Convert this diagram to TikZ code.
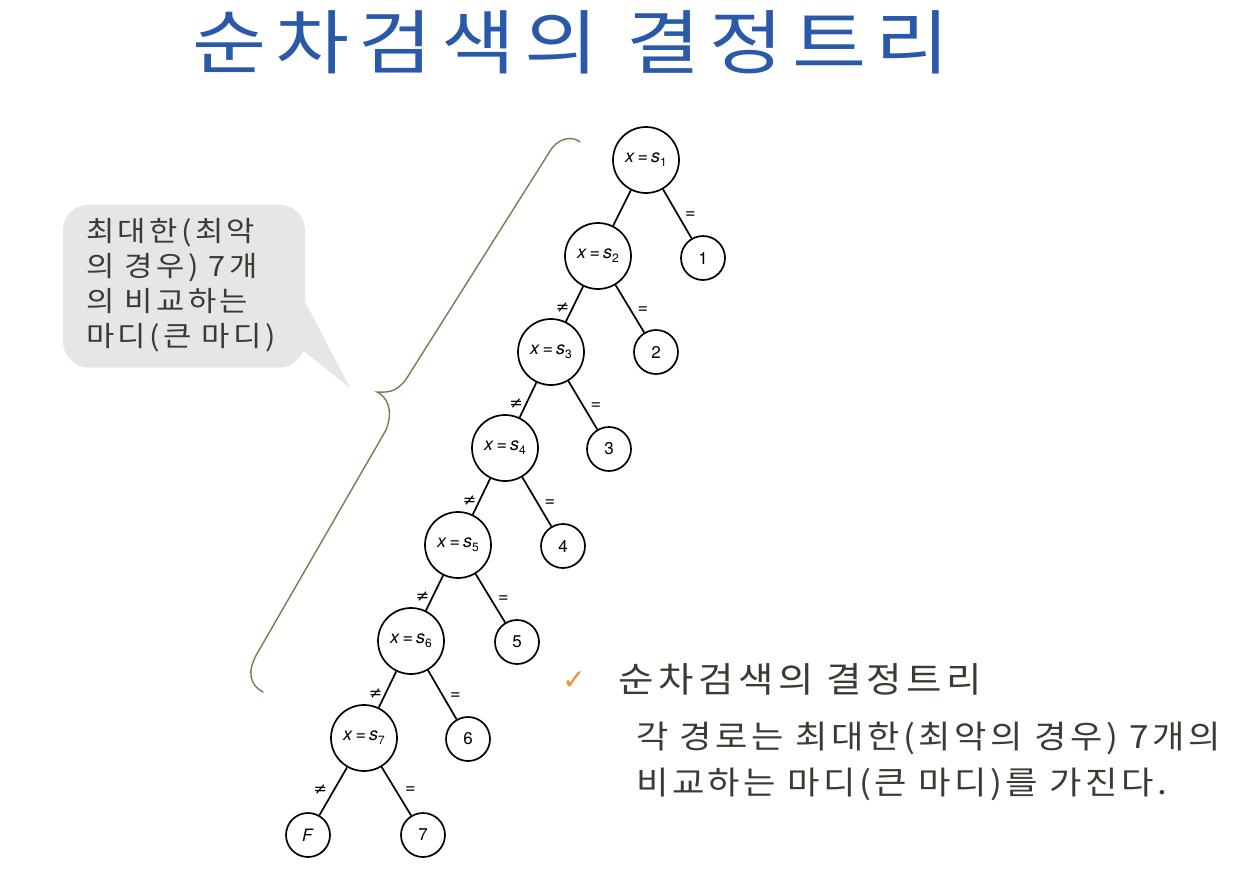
\documentclass[tikz,border=0pt]{standalone}
\usepackage{fontspec}
\newfontfamily\krtitle[FakeStretch=1.15,LetterSpace=13]{Noto Sans CJK KR}
\newfontfamily\krhead[FakeStretch=1.1,LetterSpace=13]{Noto Sans CJK KR}
\newfontfamily\krbody[FakeStretch=1.1,LetterSpace=11]{Noto Sans CJK KR}
\newfontfamily\krcall[FakeStretch=1.1,LetterSpace=12]{Noto Sans CJK KR}
\newfontfamily\hv{TeX Gyre Heros}
\newfontfamily\djv{DejaVu Sans}
\definecolor{titleblue}{RGB}{43,89,170}
\definecolor{bodytxt}{RGB}{60,58,50}
\definecolor{bracecol}{RGB}{128,120,80}
\definecolor{calloutgray}{RGB}{230,230,230}
\definecolor{checkorange}{RGB}{245,140,50}
\newcommand{\xs}[1]{\textit{x}\,=\,\textit{s}\raisebox{-0.4ex}{\fontsize{12}{12}\selectfont #1}}
\begin{document}
\begin{tikzpicture}[x=1pt,y=-1pt,
  inner/.style={circle,draw,line width=1.7pt,minimum size=66pt,inner sep=0pt,font=\hv\fontsize{18}{18}\selectfont},
  leaf/.style={circle,draw,line width=1.7pt,minimum size=44pt,inner sep=0pt,font=\hv\fontsize{17}{17}\selectfont},
  edge/.style={line width=1.7pt},
  eqlbl/.style={font=\hv\fontsize{18}{18}\selectfont,inner sep=0pt},
  nelbl/.style={font=\djv\fontsize{16}{16}\selectfont,inner sep=0pt}]
\useasboundingbox (0,0) rectangle (1256,884);
\fill[white] (0,0) rectangle (1256,884);
% title
\node[anchor=west,inner sep=0pt,text=titleblue,font=\krtitle\fontsize{70}{70}\selectfont] (title) at (192,42) {순차검색의 결정트리};
% callout
\fill[calloutgray] (300,292) -- (350,388) -- (300,348) -- cycle;
\node[fill=calloutgray,rounded corners=26pt,minimum width=242pt,minimum height=163pt,inner sep=0pt] (callbox) at (184,286) {};
\node[anchor=north west,align=left,inner sep=0pt,text=bodytxt,font=\krcall\fontsize{28}{35}\selectfont] (calltext) at (86,218) {최대한(최악\\의 경우) 7개\\의 비교하는\\마디(큰 마디)};
% brace
\draw[bracecol,line width=1.4pt,line cap=round]
  (580,142) .. controls (574,137) and (562,136) .. (552,148)
  -- (410,373) .. controls (400,390) and (392,393) .. (377,392)
  .. controls (387,397) and (394,410) .. (386,430)
  -- (258,652) .. controls (246,672) and (250,685) .. (263,692);
% tree nodes
\node[inner] (s1) at (646,160) {\xs{1}};
\node[inner] (s2) at (598,256) {\xs{2}};
\node[inner] (s3) at (551,352) {\xs{3}};
\node[inner] (s4) at (505,448) {\xs{4}};
\node[inner] (s5) at (458,545) {\xs{5}};
\node[inner] (s6) at (411,641) {\xs{6}};
\node[inner] (s7) at (364,738) {\xs{7}};
\node[leaf] (l1) at (703,258) {1};
\node[leaf] (l2) at (656,352) {2};
\node[leaf] (l3) at (609,449) {3};
\node[leaf] (l4) at (563,546) {4};
\node[leaf] (l5) at (517,642) {5};
\node[leaf] (l6) at (468,739) {6};
\node[leaf] (l7) at (423,835) {7};
\node[leaf] (lF) at (308,835) {\textit{F}};
% edges
\draw[edge] (s1) -- (s2);
\draw[edge] (s1) -- node[eqlbl,xshift=13pt,yshift=-1pt]{=} (l1);
\draw[edge] (s2) -- node[nelbl,xshift=-12pt,yshift=-4pt]{≠} (s3);
\draw[edge] (s2) -- node[eqlbl,xshift=13pt,yshift=-1pt]{=} (l2);
\draw[edge] (s3) -- node[nelbl,xshift=-12pt,yshift=-4pt]{≠} (s4);
\draw[edge] (s3) -- node[eqlbl,xshift=13pt,yshift=-1pt]{=} (l3);
\draw[edge] (s4) -- node[nelbl,xshift=-12pt,yshift=-4pt]{≠} (s5);
\draw[edge] (s4) -- node[eqlbl,xshift=13pt,yshift=-1pt]{=} (l4);
\draw[edge] (s5) -- node[nelbl,xshift=-12pt,yshift=-4pt]{≠} (s6);
\draw[edge] (s5) -- node[eqlbl,xshift=13pt,yshift=-1pt]{=} (l5);
\draw[edge] (s6) -- node[nelbl,xshift=-12pt,yshift=-4pt]{≠} (s7);
\draw[edge] (s6) -- node[eqlbl,xshift=13pt,yshift=-1pt]{=} (l6);
\draw[edge] (s7) -- node[nelbl,xshift=-13pt,yshift=2pt]{≠} (lF);
\draw[edge] (s7) -- node[eqlbl,xshift=14pt,yshift=1pt]{=} (l7);
% bullet text
\node[anchor=center,inner sep=0pt,text=checkorange,font=\djv\fontsize{28}{28}\selectfont] (check) at (574,681) {✓};
\node[anchor=west,inner sep=0pt,text=bodytxt,font=\krhead\fontsize{35}{35}\selectfont] (bhead) at (618,679) {순차검색의 결정트리};
\node[anchor=north west,align=left,inner sep=0pt,text=bodytxt,font=\krbody\fontsize{32}{46}\selectfont] (bbody) at (636,722) {각 경로는 최대한(최악의 경우) 7개의\\비교하는 마디(큰 마디)를 가진다.};
\end{tikzpicture}
\end{document}
